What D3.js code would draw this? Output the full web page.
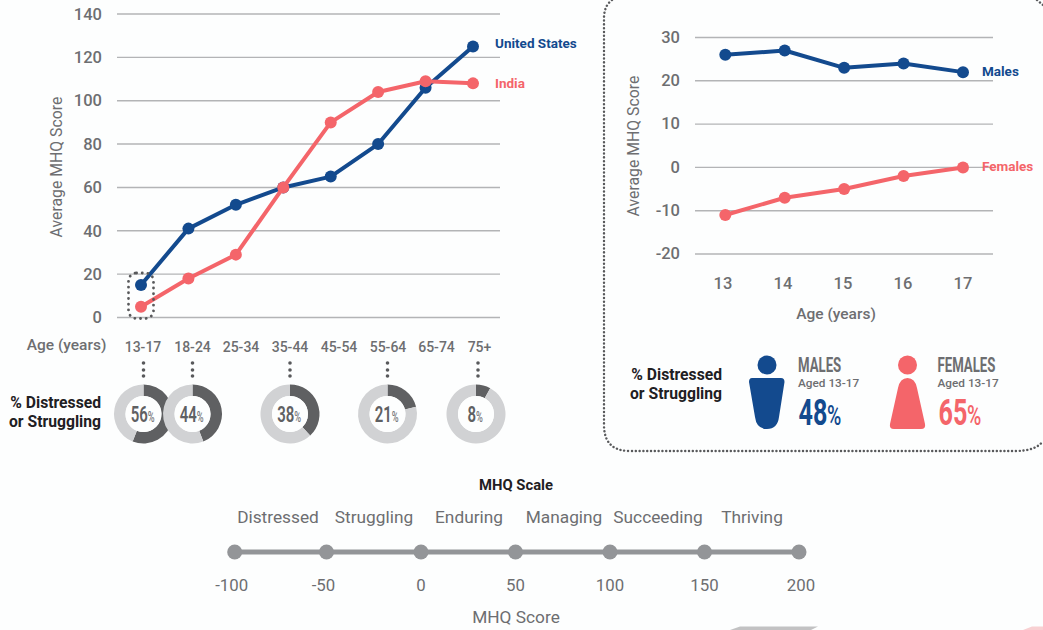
<!DOCTYPE html>
<html><head><meta charset="utf-8">
<script src="https://cdn.jsdelivr.net/npm/d3@7"></script>
<style>html,body{margin:0;padding:0;background:#fdfefe}svg{display:block}text{font-family:Roboto,sans-serif}</style>
</head><body><svg id="c" width="1043" height="630"></svg>
<script>
const ageGroups=["13-17","18-24","25-34","35-44","45-54","55-64","65-74","75+"];
const usScores=[15,41,52,60,65,80,106,125];
const indiaScores=[5,18,29,60,90,104,109,108];
const leftTicks=[0,20,40,60,80,100,120,140];
const teenAges=[13,14,15,16,17];
const maleScores=[26,27,23,24,22];
const femaleScores=[-11,-7,-5,-2,0];
const rightTicks=[-20,-10,0,10,20,30];
const donutAges=["13-17","18-24","35-44","55-64","75+"];
const donutPct=[56,44,38,21,8];
const scaleNames=["Distressed","Struggling","Enduring","Managing","Succeeding","Thriving"];
const scaleTicks=[-100,-50,0,50,100,150,200];

const BLUE="#134a8e",RED="#f4656a",GREY="#6d6e71",DARK="#1f2023",GRID="#b3b4b6";
const svg=d3.select("#c");
function txt(x,y,s,o={}){
  const t=svg.append("text").attr("x",x).attr("y",y).text(s)
   .attr("font-size",o.size||15).attr("fill",o.fill||GREY).attr("text-anchor",o.anchor||"middle")
   .attr("font-weight",o.weight||400);
  if(o.t)t.attr("transform",o.t).attr("x",0).attr("y",0);
  return t;
}
function cond(x,y,s,size,fill,anchor,sx,weight){
  return svg.append("text").attr("transform",`translate(${x},${y}) scale(${sx||0.68},1)`).text(s)
   .attr("font-size",size).attr("fill",fill).attr("text-anchor",anchor||"start").attr("font-weight",weight||500);
}
function chart(xs,ys,x0,x1,ticks,tickX,tickDy,series){
  ticks.forEach(t=>svg.append("line").attr("x1",x0).attr("x2",x1).attr("y1",ys(t)).attr("y2",ys(t))
    .attr("stroke",GRID).attr("stroke-width",1.4));
  svg.append("g").attr("transform",`translate(${tickX},${tickDy})`)
    .call(d3.axisLeft(ys).tickValues(ticks).tickSize(0).tickPadding(0).tickFormat(String))
    .call(g=>g.select(".domain").remove())
    .selectAll("text").attr("font-size",16.5).attr("font-weight",500).attr("fill",GREY).attr("font-family","Roboto,sans-serif");
  series.forEach(s=>{
    const pts=s.cats.map((c,i)=>[xs(c),ys(s.vals[i])]);
    svg.append("path").attr("d",d3.line()(pts)).attr("fill","none").attr("stroke",s.color).attr("stroke-width",4).attr("stroke-linejoin","round");
    svg.selectAll(null).data(pts).enter().append("circle").attr("cx",d=>d[0]).attr("cy",d=>d[1]).attr("r",6).attr("fill",s.color);
  });
}
// left chart
const xL=d3.scalePoint().domain(ageGroups).range([141,473]);
const yL=d3.scaleLinear().domain([0,140]).range([317.5,14]);
chart(xL,yL,117,500,leftTicks,102,0,[
  {cats:ageGroups,vals:usScores,color:BLUE},
  {cats:ageGroups,vals:indiaScores,color:RED}]);
txt(0,0,"Average MHQ Score",{size:15.8,t:"translate(62,167) rotate(-90)"});
txt(495,48,"United States",{size:13.5,weight:700,fill:BLUE,anchor:"start"});
txt(495,88,"India",{size:13.5,weight:700,fill:RED,anchor:"start"});
svg.append("rect").attr("x",128.5).attr("y",273).attr("width",25).attr("height",45.5).attr("rx",8)
  .attr("fill","none").attr("stroke","#58595b").attr("stroke-width",2.8).attr("stroke-dasharray","0.1 5.6").attr("stroke-linecap","round");
txt(66.5,350,"Age (years)",{size:15.5,weight:500});
const labelX=[143,192.5,241,290,339,388,436.5,479.5];
ageGroups.forEach((a,i)=>txt(labelX[i],352,a,{size:14,weight:500}));

// donuts
const donutX=d3.scaleOrdinal().domain(donutAges).range([143.5,192.5,290,387.5,476]);
const arc=d3.arc().innerRadius(18).outerRadius(29.5);
const pie=d3.pie().sort(null).value(d=>d);
donutAges.forEach((a,i)=>{
  const cx=donutX(a);
  [363,370,376].forEach(y=>svg.append("circle").attr("cx",cx+(i==4?2:0)).attr("cy",y).attr("r",1.8).attr("fill","#58595b"));
  const g=svg.append("g").attr("transform",`translate(${cx},414)`);
  g.selectAll("path").data(pie([donutPct[i],100-donutPct[i]])).enter().append("path").attr("d",arc)
    .attr("fill",(d,j)=>j==0?"#5f6062":"#d1d2d4");
  g.append("circle").attr("r",18).attr("fill","#fdfefe");
  const w=(String(donutPct[i]).length)*8.6;
  const left=cx-(w+8.5)/2;
  cond(left,422,donutPct[i],22,"#5f6062","start",0.68,600);
  cond(left+w,422,"%",15,"#77787b","start",0.62,500);
});
txt(101,408,"% Distressed",{size:15.7,weight:700,fill:DARK,anchor:"end"});
txt(101,427,"or Struggling",{size:15.7,weight:700,fill:DARK,anchor:"end"});

// panel
const dotted=p=>svg.append("path").attr("d",p).attr("fill","none").attr("stroke","#58595b").attr("stroke-width",2.4).attr("stroke-dasharray","0.1 3.7").attr("stroke-linecap","round");
dotted("M612,0 Q604,6 604,18 L604,425 Q604,451 630,451 L1015,451 Q1036,451 1043,441");
dotted("M1037,0 L1043,5");

// right chart
const xR=d3.scalePoint().domain(teenAges).range([725.3,963]);
const yR=d3.scaleLinear().domain([-20,30]).range([254,37.5]);
chart(xR,yR,695,993,rightTicks,680,-0.5,[
  {cats:teenAges,vals:maleScores,color:BLUE},
  {cats:teenAges,vals:femaleScores,color:RED}]);
txt(0,0,"Average MHQ Score",{size:15.8,t:"translate(639,146) rotate(-90)"});
txt(982,76,"Males",{size:13.5,weight:700,fill:BLUE,anchor:"start"});
txt(982,171,"Females",{size:13.5,weight:700,fill:RED,anchor:"start"});
const xRL=d3.scalePoint().domain(teenAges).range([723,963]);
teenAges.forEach(a=>txt(xRL(a),289,a,{size:16.5,weight:500}));
txt(836,319,"Age (years)",{size:15.5,weight:500});
txt(722,380,"% Distressed",{size:15.7,weight:700,fill:DARK,anchor:"end"});
txt(722,399,"or Struggling",{size:15.7,weight:700,fill:DARK,anchor:"end"});
svg.append("circle").attr("cx",767).attr("cy",365).attr("r",9.5).attr("fill",BLUE);
svg.append("path").attr("fill",BLUE).attr("d","M752,378 L781,378 Q784.5,378 784.5,382 L779,417 Q777.5,429 767,429 Q756.5,429 755,417 L749,382 Q749,378 752,378 Z");
svg.append("circle").attr("cx",907.5).attr("cy",365).attr("r",9.5).attr("fill",RED);
svg.append("path").attr("fill",RED).attr("d","M907.5,378 Q915,378 917,388 L925,424 Q926,429 921,429 L894,429 Q889,429 890,424 L898,388 Q900,378 907.5,378 Z");
cond(798,372,"MALES",20,GREY,"start",0.66,700);
cond(937.5,372,"FEMALES",20,GREY,"start",0.66,700);
txt(798,387,"Aged 13-17",{size:11.8,weight:500,anchor:"start"});
txt(937.5,387,"Aged 13-17",{size:11.8,weight:500,anchor:"start"});
const teenPct=[48,65];
cond(798.5,425,teenPct[0],37,BLUE,"start",0.68,700);
cond(827,425,"%",27,BLUE,"start",0.72,500);
cond(938.5,425,teenPct[1],37,RED,"start",0.68,700);
cond(967,425,"%",27,RED,"start",0.72,500);

// MHQ scale
const xS=d3.scaleLinear().domain([-100,-50,200]).range([234.7,326.5,799]);
txt(516,490,"MHQ Scale",{size:14.8,weight:700,fill:DARK});
const nameX=[278,374,469,564,658,752];
scaleNames.forEach((n,i)=>txt(nameX[i],523,n,{size:17.3}));
svg.append("line").attr("x1",xS(-100)).attr("x2",xS(200)).attr("y1",552).attr("y2",552).attr("stroke","#939598").attr("stroke-width",5);
svg.selectAll(null).data(scaleTicks).enter().append("circle").attr("cx",d=>xS(d)).attr("cy",552).attr("r",7.5).attr("fill","#939598");
const tickNudge=[-3,-3,0,0,0,0,2];
scaleTicks.forEach((t,i)=>txt(xS(t)+tickNudge[i],591,t,{size:16.8}));
txt(516,622.5,"MHQ Score",{size:17.3});

// page-edge fragments
svg.append("path").attr("fill","#c2c2c3").attr("d","M730,630 L740,626.5 L818,626.5 L811,630 Z");
svg.append("path").attr("fill","#f8d0d2").attr("d","M1023,630 L1032,626.5 L1043,626.5 L1043,630 Z");
</script></body></html>
